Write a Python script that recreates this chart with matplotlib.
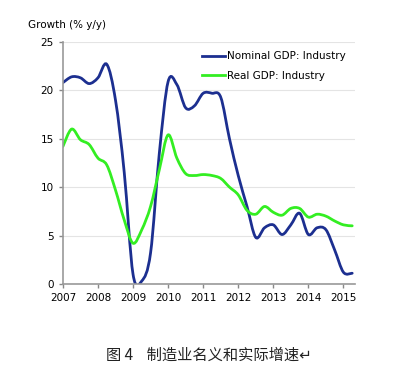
import matplotlib
matplotlib.use("Agg")
import matplotlib.pyplot as plt
from matplotlib.path import Path
from matplotlib.patches import PathPatch

# quarterly readings (decimal years)
quarters = [2007.0, 2007.25, 2007.5, 2007.75, 2008.0, 2008.25, 2008.5, 2008.75,
            2009.0, 2009.25, 2009.5, 2009.75, 2010.0, 2010.25, 2010.5, 2010.75,
            2011.0, 2011.25, 2011.5, 2011.75, 2012.0, 2012.25, 2012.5, 2012.75,
            2013.0, 2013.25, 2013.5, 2013.75, 2014.0, 2014.25, 2014.5, 2014.75,
            2015.0, 2015.25]
nominal = [20.8, 21.4, 21.3, 20.7, 21.3, 22.7, 19.0, 11.5,
           1.0, 0.3, 3.2, 13.5, 20.9, 20.6, 18.2, 18.4,
           19.7, 19.7, 19.3, 15.0, 11.2, 8.0, 4.8, 5.8,
           6.1, 5.1, 6.1, 7.3, 5.1, 5.8, 5.6, 3.5,
           1.2, 1.1]
real = [14.2, 16.0, 14.9, 14.4, 13.0, 12.3, 9.7, 6.6,
        4.2, 5.6, 8.0, 11.8, 15.4, 13.0, 11.4, 11.2,
        11.3, 11.2, 10.9, 10.0, 9.2, 7.6, 7.2, 8.0,
        7.4, 7.1, 7.8, 7.8, 6.9, 7.2, 7.0, 6.5,
        6.1, 6.0]
years = list(range(2007, 2016))
yticks = [0, 5, 10, 15, 20, 25]


def smooth_path(xs, ys):
    # Catmull-Rom style bezier through the points (drawing only)
    pts = list(zip(xs, ys))
    verts = [pts[0]]
    codes = [Path.MOVETO]
    n = len(pts)
    for i in range(n - 1):
        p0 = pts[max(i - 1, 0)]
        p1 = pts[i]
        p2 = pts[i + 1]
        p3 = pts[min(i + 2, n - 1)]
        c1 = (p1[0] + (p2[0] - p0[0]) / 6, p1[1] + (p2[1] - p0[1]) / 6)
        c2 = (p2[0] - (p3[0] - p1[0]) / 6, p2[1] - (p3[1] - p1[1]) / 6)
        verts += [c1, c2, p2]
        codes += [Path.CURVE4] * 3
    return Path(verts, codes)


plt.rcParams['font.family'] = ['DejaVu Sans']

fig = plt.figure(figsize=(3.98, 3.75), dpi=100)
ax = fig.add_axes([0.158, 0.243, 0.734, 0.645])

blue = '#1c2f90'
green = '#33ee22'
ax.add_patch(PathPatch(smooth_path(quarters, nominal), fill=False, edgecolor=blue,
                       lw=2, capstyle='round', joinstyle='round'))
ax.add_patch(PathPatch(smooth_path(quarters, real), fill=False, edgecolor=green,
                       lw=2, capstyle='round', joinstyle='round'))
# legend handles
ax.plot([], [], color=blue, lw=2, label='Nominal GDP: Industry')
ax.plot([], [], color=green, lw=2, label='Real GDP: Industry')

ax.set_xlim(2007, 2015.33)
ax.set_ylim(0, 25)
ax.set_xticks(years)
ax.set_yticks(yticks)
ax.tick_params(labelsize=7.5, colors='#888888', labelcolor='black', length=3, width=1)
ax.grid(axis='y', color='#e4e4e4', lw=0.8)
ax.set_axisbelow(True)
for s in ['top', 'right']:
    ax.spines[s].set_visible(False)
for s in ['left', 'bottom']:
    ax.spines[s].set_color('#999999')
    ax.spines[s].set_linewidth(1.2)

ax.legend(loc='upper right', bbox_to_anchor=(1.0, 1.0), frameon=False,
          fontsize=7.5, handlelength=2.2, handletextpad=0.2, labelspacing=0.9)

fig.text(0.07, 0.925, 'Growth (% y/y)', fontsize=7.5)
fig.text(0.525, 0.04, '图 4    制造业名义和实际增速↵', ha='center', fontsize=11,
         family=['Noto Sans CJK SC', 'DejaVu Sans'], color='#222222')

fig.savefig('out.png', dpi=100)
